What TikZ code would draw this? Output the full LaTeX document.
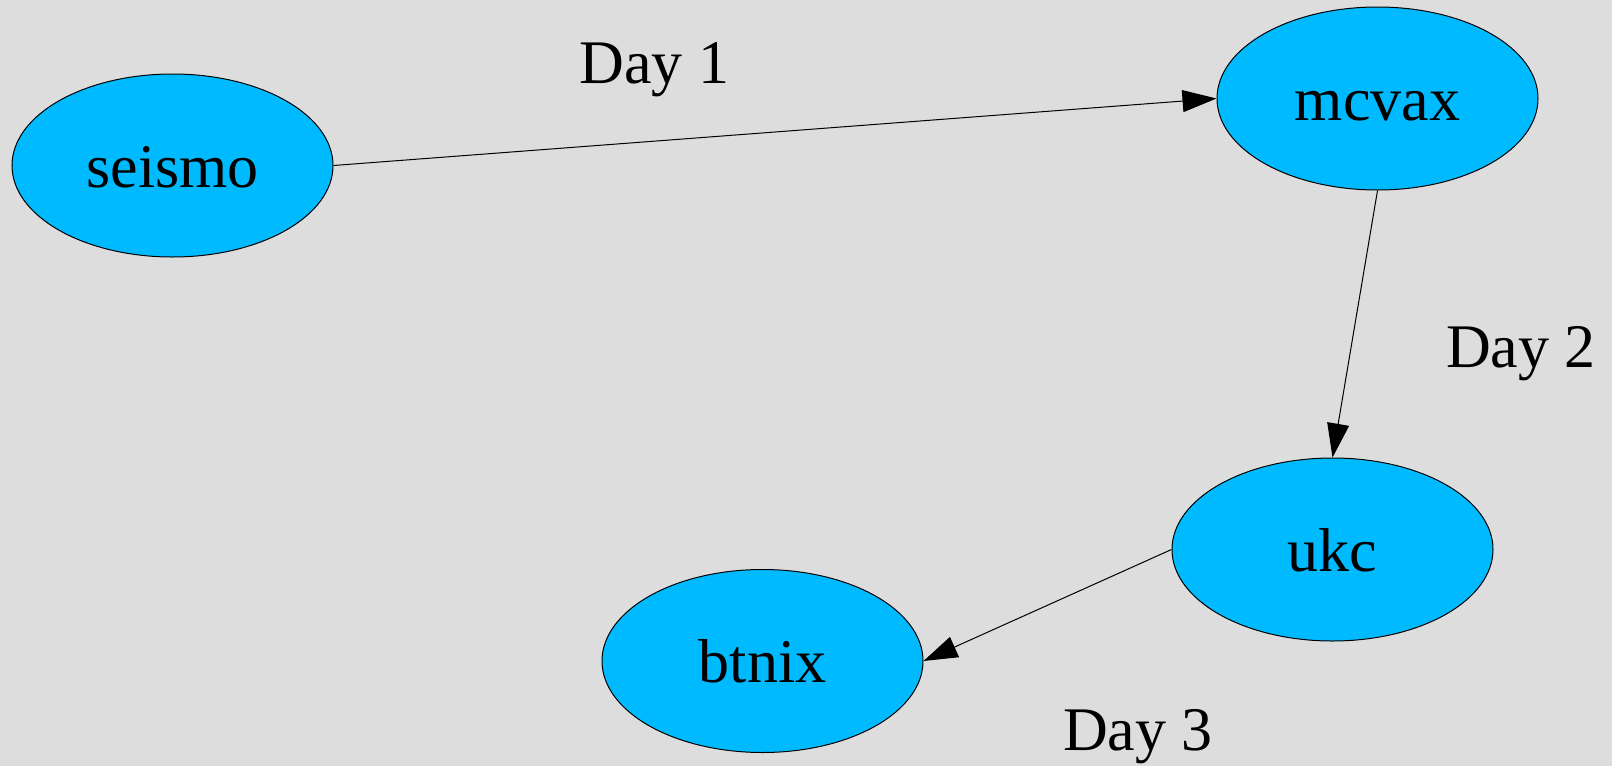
\documentclass[tikz,border=0pt]{standalone}
\usepackage{fontspec}
\setmainfont{Liberation Serif}
\usetikzlibrary{shapes.geometric,arrows.meta}
\definecolor{hostblue}{HTML}{00BAFF}
\definecolor{paper}{HTML}{DDDDDD}
\begin{document}
\begin{tikzpicture}[x=0.5pt, y=-0.5pt,
        host/.style={ellipse, draw, fill=hostblue, line width=0.5pt, minimum width=160.5pt, minimum height=91.5pt, inner sep=0pt, font=\fontsize{31}{37}\selectfont, text height=21.5pt, text depth=0pt},
        day/.style={font=\fontsize{31}{37}\selectfont, anchor=base, inner sep=0pt},
        hop/.style={line width=0.5pt, -{Triangle[length=17pt, width=11pt]}}]
    \fill[paper] (0,0) rectangle (1612,766);
    \node[host] at (172.5,165.5) (seismo) {seismo};
    \node[host] at (1377.5,98.5) (mcvax) {mcvax};
    \node[host] at (1332.5,549.5) (ukc) {ukc};
    \node[host] at (762.5,661) (btnix) {btnix};
    \node[day] at (654.5,83) (day1) {Day 1};
    \node[day] at (1521,367) (day2) {Day 2};
    \node[day] at (1138,750) (day3) {Day 3};
    \draw[hop] (seismo.east) -- (mcvax.west);
    \draw[hop] (mcvax.south) -- (ukc.north);
    \draw[hop] (ukc.west) -- (btnix.east);
\end{tikzpicture}
\end{document}
